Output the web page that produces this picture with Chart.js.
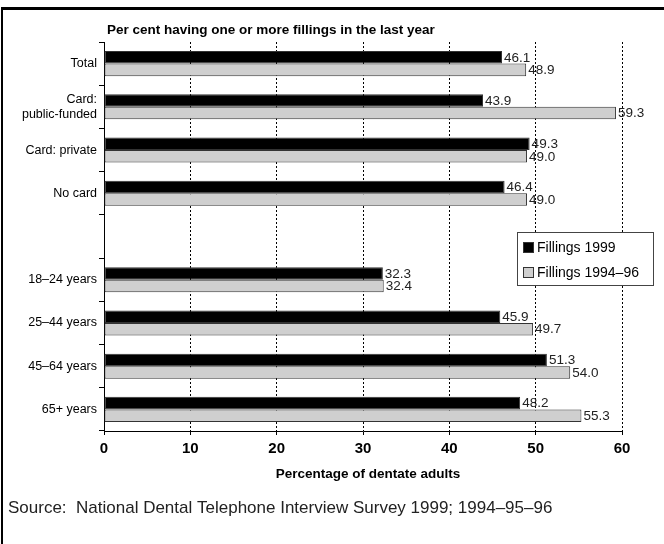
<!DOCTYPE html>
<html>
<head>
<meta charset="utf-8">
<script src="https://cdn.jsdelivr.net/npm/chart.js@4.4.0/dist/chart.umd.min.js"></script>
<style>
  html, body { margin: 0; padding: 0; background: #fff; }
  #wrap { position: relative; width: 664px; height: 544px; }
  #frame {
    position: absolute; left: 1px; top: 7px; right: 0; bottom: 0;
    border-top: 3px solid #000; border-left: 2px solid #000;
    pointer-events: none;
  }
</style>
</head>
<body>
<div id="wrap">
  <canvas id="chart" width="664" height="544"></canvas>
  <div id="frame"></div>
</div>
<script>
const categories = ["Total", ["Card:", "public-funded"], "Card: private", "No card", "",
  "18–24 years", "25–44 years", "45–64 years", "65+ years"];
const fillings1999 = [46.1, 43.9, 49.3, 46.4, null, 32.3, 45.9, 51.3, 48.2];
const fillings199496 = [48.9, 59.3, 49.0, 49.0, null, 32.4, 49.7, 54.0, 55.3];
const xTicks = [0, 10, 20, 30, 40, 50, 60];

const FONT = "'Liberation Sans', Arial, sans-serif";

// value labels, title, legend box, axis title, source line
const extras = {
  id: "extras",
  afterDatasetsDraw(chart) {
    const ctx = chart.ctx;
    ctx.save();
    ctx.fillStyle = "#222";
    ctx.font = "13.5px " + FONT;
    ctx.textBaseline = "middle";
    ctx.textAlign = "left";
    chart.data.datasets.forEach((ds, i) => {
      chart.getDatasetMeta(i).data.forEach((bar, j) => {
        const v = ds.data[j];
        if (v == null) return;
        ctx.fillText(v.toFixed(1), bar.x + 2, bar.y + 0.5);
      });
    });
    ctx.restore();
  },
  afterDraw(chart) {
    const ctx = chart.ctx;
    const area = chart.chartArea;
    ctx.save();
    ctx.fillStyle = "#000";
    ctx.textBaseline = "middle";

    ctx.font = "bold 13.5px " + FONT;
    ctx.textAlign = "left";
    ctx.fillText("Per cent having one or more fillings in the last year", area.left + 3, 30);

    ctx.textAlign = "center";
    ctx.fillText("Percentage of dentate adults", (area.left + area.right) / 2 + 5, 474);

    ctx.font = "17px " + FONT;
    ctx.textAlign = "left";
    ctx.fillStyle = "#222";
    ctx.fillText("Source:  National Dental Telephone Interview Survey 1999; 1994–95–96", 8, 508);

    // legend
    const bx = 517, by = 232, bw = 136, bh = 53;
    ctx.fillStyle = "#fff";
    ctx.fillRect(bx, by, bw, bh);
    ctx.strokeStyle = "#444";
    ctx.lineWidth = 1;
    ctx.strokeRect(bx + 0.5, by + 0.5, bw, bh);
    ctx.font = "14px " + FONT;
    chart.data.datasets.forEach((ds, i) => {
      const cy = by + 15 + i * 25;
      ctx.fillStyle = ds.backgroundColor;
      ctx.fillRect(bx + 6, cy - 5, 11, 11);
      ctx.strokeStyle = "#333";
      ctx.strokeRect(bx + 6.5, cy - 4.5, 10, 10);
      ctx.fillStyle = "#000";
      ctx.fillText(ds.label, bx + 20, cy + 1);
    });
    ctx.restore();
  }
};

new Chart(document.getElementById("chart"), {
  type: "bar",
  data: {
    labels: categories,
    datasets: [
      {
        label: "Fillings 1999",
        data: fillings1999,
        backgroundColor: "#000000",
        borderColor: "#333333",
        borderWidth: 1,
        borderSkipped: false
      },
      {
        label: "Fillings 1994–96",
        data: fillings199496,
        backgroundColor: "#cfcfcf",
        borderColor: "#333333",
        borderWidth: 1,
        borderSkipped: false
      }
    ]
  },
  options: {
    indexAxis: "y",
    responsive: false,
    animation: false,
    layout: { padding: { top: 42, right: 42, bottom: 53, left: 0 } },
    datasets: { bar: { categoryPercentage: 0.58, barPercentage: 1.0 } },
    plugins: {
      legend: { display: false },
      tooltip: { enabled: false }
    },
    scales: {
      x: {
        min: 0,
        max: 60,
        afterFit: (s) => { s.height = 60; },
        afterBuildTicks: (s) => { s.ticks = xTicks.map(v => ({ value: v })); },
        ticks: {
          color: "#000",
          font: { family: FONT, size: 15, weight: "bold" },
          padding: 5
        },
        grid: {
          color: (c) => (c.tick && c.tick.value === 0 ? "rgba(0,0,0,0)" : "#000"),
          tickColor: "#000",
          tickLength: 4,
          tickBorderDash: []
        },
        border: { display: true, color: "#000", width: 1, dash: [2, 2] }
      },
      y: {
        afterFit: (s) => { s.width = 104; },
        ticks: {
          color: "#000",
          font: { family: FONT, size: 12.5 },
          padding: 2,
          autoSkip: false
        },
        grid: {
          offset: true,
          drawOnChartArea: false,
          tickLength: 5,
          tickColor: "#000"
        },
        border: { display: true, color: "#000", width: 1 }
      }
    }
  },
  plugins: [extras]
});
</script>
</body>
</html>
